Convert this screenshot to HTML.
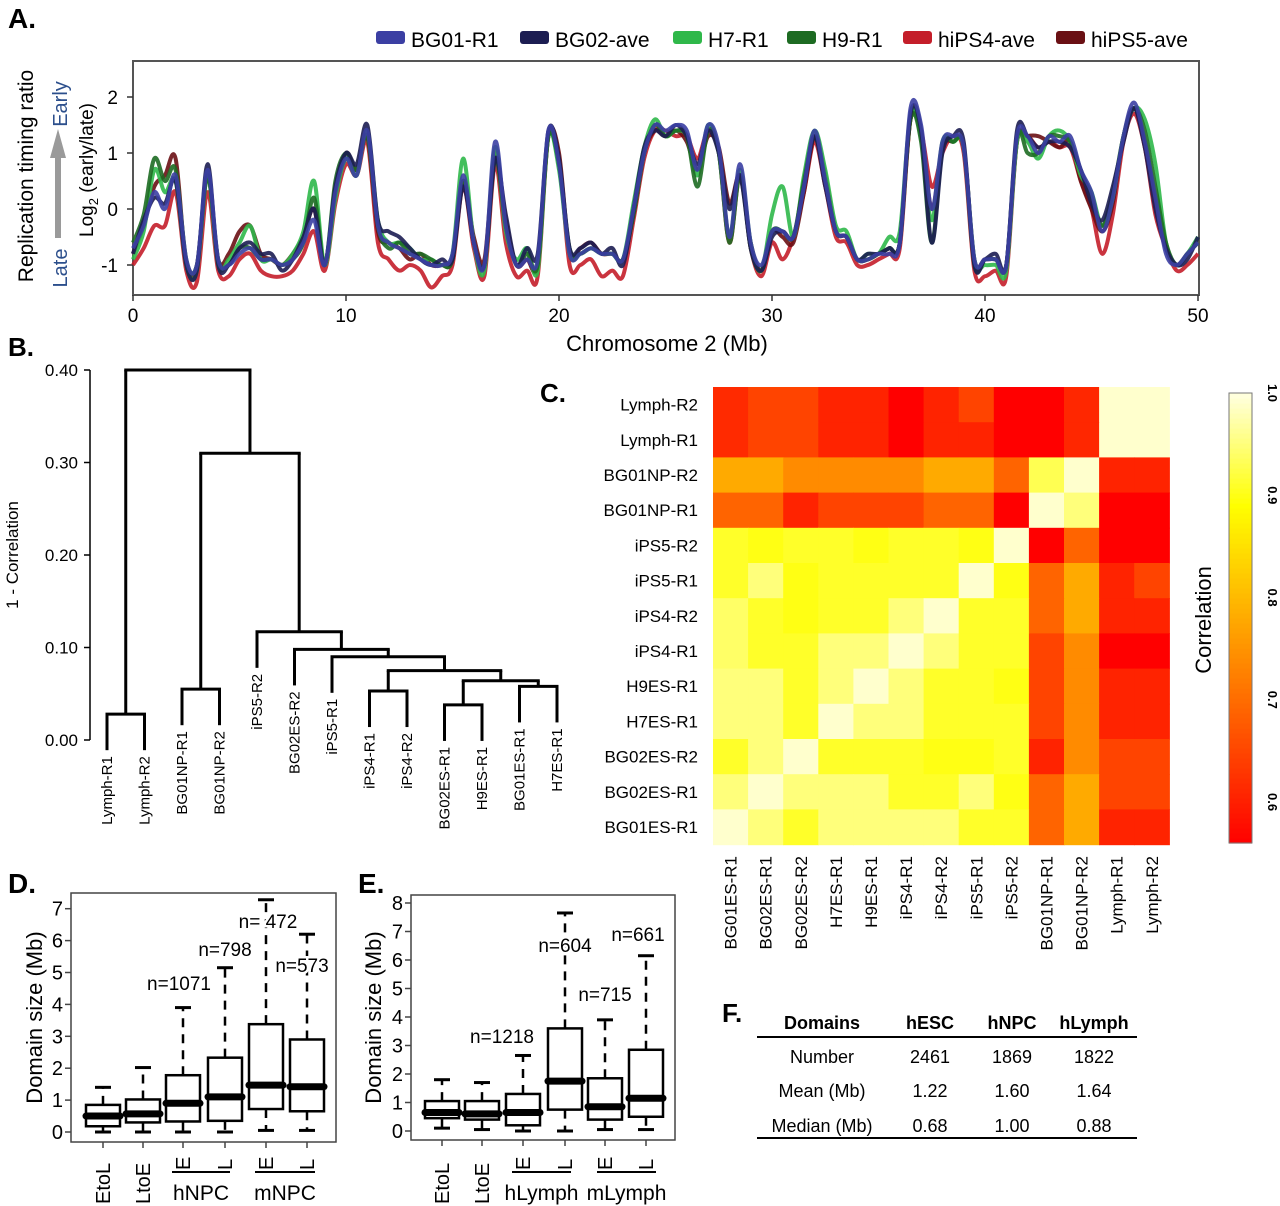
<!DOCTYPE html>
<html><head><meta charset="utf-8"><style>
html,body{margin:0;padding:0;background:#fff;}
svg{display:block;font-family:"Liberation Sans",sans-serif;}
</style></head><body>
<svg id="fig" width="1280" height="1206" viewBox="0 0 1280 1206" xmlns="http://www.w3.org/2000/svg">
<g id="gA"></g>
<g id="gB"></g>
<g id="gC"></g>
<g id="gD"></g>
<g id="gE"></g>
<g id="gF">
  <text x="722" y="1022" font-size="26" font-weight="bold">F.</text>
  <line x1="757" y1="1037" x2="1137" y2="1037" stroke="#000" stroke-width="2"/>
  <line x1="757" y1="1138" x2="1137" y2="1138" stroke="#000" stroke-width="2"/>
  <g font-size="18" font-weight="bold" text-anchor="middle">
    <text x="822" y="1029">Domains</text>
    <text x="930" y="1029">hESC</text>
    <text x="1012" y="1029">hNPC</text>
    <text x="1094" y="1029">hLymph</text>
  </g>
  <g font-size="18" text-anchor="middle">
    <text x="822" y="1063">Number</text>
    <text x="930" y="1063">2461</text>
    <text x="1012" y="1063">1869</text>
    <text x="1094" y="1063">1822</text>
    <text x="822" y="1097">Mean (Mb)</text>
    <text x="930" y="1097">1.22</text>
    <text x="1012" y="1097">1.60</text>
    <text x="1094" y="1097">1.64</text>
    <text x="822" y="1132">Median (Mb)</text>
    <text x="930" y="1132">0.68</text>
    <text x="1012" y="1132">1.00</text>
    <text x="1094" y="1132">0.88</text>
  </g>
</g>
</svg>
<script>
// ---------- Panel A data ----------
const seriesNames = ["BG01-R1","BG02-ave","H7-R1","H9-R1","hiPS4-ave","hiPS5-ave"];
const seriesColors = ["#3b3fa3","#1c1d52","#2fb84a","#1d6b22","#c41e2a","#6a1014"];
const positionsMb = [0,0.5,1,1.5,2,2.5,3,3.5,4,4.5,5,5.5,6,6.5,7,7.5,8,8.5,9,9.5,10,10.5,11,11.5,12,12.5,13,13.5,14,14.5,15,15.5,16,16.5,17,17.5,18,18.5,19,19.5,20,20.5,21,21.5,22,22.5,23,23.5,24,24.5,25,25.5,26,26.5,27,27.5,28,28.5,29,29.5,30,30.5,31,31.5,32,32.5,33,33.5,34,34.5,35,35.5,36,36.5,37,37.5,38,38.5,39,39.5,40,40.5,41,41.5,42,42.5,43,43.5,44,44.5,45,45.5,46,46.5,47,47.5,48,48.5,49,49.5,50];
const bg01 = [-0.7,-0.3,0.3,0.0,0.6,-0.9,-1.0,0.7,-0.9,-1.0,-0.8,-0.7,-0.9,-0.9,-1.0,-0.9,-0.6,-0.2,-1.0,0.3,0.9,0.6,1.4,-0.3,-0.6,-0.7,-0.8,-0.9,-1.0,-1.0,-0.8,0.6,-0.6,-1.0,1.2,-0.3,-1.0,-0.9,-0.9,1.4,0.8,-0.8,-0.8,-0.7,-0.8,-0.8,-0.9,0.0,1.0,1.5,1.4,1.5,1.4,0.7,1.5,1.1,-0.5,0.8,-0.6,-1.0,-0.4,-0.4,-0.5,0.4,1.4,0.5,-0.4,-0.5,-0.9,-0.9,-0.8,-0.8,-0.6,1.8,1.5,0.0,1.2,1.3,1.1,-0.9,-0.9,-0.9,-1.0,1.3,1.3,1.0,1.3,1.2,1.3,0.7,0.3,-0.4,0.2,1.3,1.9,1.2,0.2,-0.8,-1.0,-0.8,-0.6];
const bg02 = [-0.8,-0.2,0.2,0.1,0.5,-1.0,-1.1,0.8,-1.0,-1.0,-0.7,-0.6,-0.8,-0.8,-1.1,-0.9,-0.5,0.0,-1.0,0.4,1.0,0.8,1.5,-0.2,-0.4,-0.5,-0.7,-0.9,-1.0,-0.9,-0.9,0.4,-0.6,-1.0,0.9,-0.1,-1.0,-0.7,-0.8,1.4,0.9,-0.7,-0.7,-0.6,-0.8,-0.7,-1.0,0.0,1.1,1.4,1.3,1.5,1.3,0.8,1.4,1.0,0.0,0.6,-0.7,-1.1,-0.5,-0.4,-0.5,0.4,1.3,0.4,-0.4,-0.5,-0.9,-0.8,-0.8,-0.7,-0.6,1.7,1.4,-0.6,1.0,1.3,1.2,-1.0,-0.9,-0.8,-1.0,1.4,1.3,1.1,1.2,1.2,1.1,0.7,0.1,-0.2,0.4,1.2,1.8,1.1,0.0,-0.7,-1.0,-0.9,-0.5];
const h7 = [-0.9,-0.4,0.7,0.3,0.5,-1.0,-1.1,0.6,-1.0,-0.9,-0.6,-0.3,-0.9,-0.9,-1.0,-0.8,-0.4,0.5,-1.0,0.2,0.9,0.6,1.4,-0.2,-0.6,-0.6,-0.7,-0.9,-0.9,-1.0,-0.8,0.9,-0.6,-1.1,1.1,-0.4,-0.9,-0.7,-1.1,1.3,0.7,-0.8,-0.8,-0.7,-0.8,-0.8,-0.9,0.1,1.1,1.6,1.3,1.4,1.3,0.6,1.5,1.0,-0.5,0.7,-0.6,-1.1,-0.1,0.4,-0.5,0.6,1.4,0.7,-0.3,-0.4,-0.9,-0.8,-0.8,-0.5,-0.4,1.7,1.3,-0.2,1.2,1.2,1.1,-0.9,-1.0,-1.0,-1.1,1.2,1.2,0.9,1.3,1.4,1.2,0.6,0.3,-0.3,0.2,1.3,1.8,1.6,0.8,-0.6,-1.0,-0.8,-0.5];
const h9 = [-0.6,-0.1,0.9,0.5,0.7,-0.9,-1.0,0.6,-0.9,-1.0,-0.7,-0.7,-0.9,-0.9,-1.0,-0.9,-0.6,0.2,-1.0,0.5,1.0,0.7,1.3,-0.3,-0.7,-0.6,-0.8,-0.8,-0.9,-1.0,-0.9,0.5,-0.6,-1.0,0.9,-0.3,-1.0,-0.8,-1.0,1.3,0.8,-0.7,-0.8,-0.7,-0.8,-0.8,-0.9,-0.1,1.0,1.5,1.3,1.4,1.3,0.4,1.4,1.0,-0.6,0.6,-0.7,-1.1,-0.4,-0.4,-0.5,0.5,1.3,0.5,-0.4,-0.5,-0.9,-0.9,-0.8,-0.7,-0.6,1.6,1.2,-0.6,1.1,1.2,1.1,-1.0,-0.9,-0.9,-1.0,1.3,1.0,1.0,1.3,1.3,1.2,0.7,0.2,-0.3,0.3,1.3,1.8,1.4,0.4,-0.6,-1.0,-0.8,-0.6];
const hips4 = [-1.0,-0.7,-0.3,-0.3,0.3,-1.1,-1.3,0.3,-1.1,-1.2,-0.9,-0.8,-1.1,-1.2,-1.2,-1.1,-0.8,-0.4,-1.1,0.1,0.8,0.6,1.2,-0.6,-0.9,-1.1,-1.0,-1.1,-1.4,-1.2,-1.0,0.4,-0.7,-1.2,0.8,-0.6,-1.2,-1.1,-1.2,1.3,0.9,-1.0,-1.0,-0.9,-1.2,-1.1,-1.2,-0.2,0.9,1.4,1.4,1.3,1.3,0.9,1.4,1.0,-0.6,0.6,-0.7,-1.2,-0.6,-0.9,-0.5,0.3,1.2,0.4,-0.5,-0.6,-1.0,-1.0,-0.9,-0.8,-0.7,1.6,1.4,0.4,1.0,1.3,1.0,-1.1,-1.2,-1.1,-1.2,1.2,1.3,1.1,1.2,1.1,1.1,0.5,0.0,-0.8,-0.1,1.2,1.7,1.1,-0.1,-0.7,-1.1,-1.0,-0.8];
const hips5 = [-0.8,-0.3,0.4,0.6,0.9,-1.0,-1.0,0.6,-0.9,-0.8,-0.4,-0.3,-0.8,-0.9,-1.0,-0.8,-0.5,0.0,-1.0,0.3,1.0,0.7,1.3,-0.4,-0.6,-0.7,-0.9,-0.8,-1.0,-1.0,-0.9,0.5,-0.5,-0.9,1.0,-0.2,-1.0,-0.9,-1.0,1.3,1.0,-0.8,-0.7,-0.6,-0.8,-0.8,-0.9,-0.1,1.0,1.4,1.3,1.4,1.2,0.7,1.3,1.1,0.1,0.6,-0.6,-1.1,-0.4,-0.5,-0.6,0.3,1.3,0.6,-0.4,-0.5,-0.9,-0.9,-0.8,-0.7,-0.6,1.6,1.4,0.0,1.1,1.2,1.1,-0.9,-0.9,-0.9,-1.0,1.2,1.3,1.3,1.2,1.1,1.2,0.5,0.0,-0.4,0.1,1.3,1.8,1.2,0.2,-0.7,-1.0,-0.8,-0.6];
const seriesValues = [bg01,bg02,h7,h9,hips4,hips5];
const aXTicks = [0,10,20,30,40,50];
const aYTicks = [2,1,0,-1];

// ---------- Panel B data ----------
const leafLabels = ["Lymph-R1","Lymph-R2","BG01NP-R1","BG01NP-R2","iPS5-R2","BG02ES-R2","iPS5-R1","iPS4-R1","iPS4-R2","BG02ES-R1","H9ES-R1","BG01ES-R1","H7ES-R1"];
// merge pairs: negative = leaf index (1-based), positive = previous merge (1-based)
const mergeLeft  = [-1,-3,-10,-12,-8,3,5,-7,-6,-5,2,1];
const mergeRight = [-2,-4,-11,-13,-9,4,6,7,8,9,10,11];
const mergeHeights = [0.028,0.055,0.038,0.058,0.053,0.064,0.075,0.090,0.098,0.117,0.31,0.40];
const bYTicks = [0.00,0.10,0.20,0.30,0.40];

// ---------- Panel C data ----------
const rowLabels = ["Lymph-R2","Lymph-R1","BG01NP-R2","BG01NP-R1","iPS5-R2","iPS5-R1","iPS4-R2","iPS4-R1","H9ES-R1","H7ES-R1","BG02ES-R2","BG02ES-R1","BG01ES-R1"];
const colLabels = ["BG01ES-R1","BG02ES-R1","BG02ES-R2","H7ES-R1","H9ES-R1","iPS4-R1","iPS4-R2","iPS5-R1","iPS5-R2","BG01NP-R1","BG01NP-R2","Lymph-R1","Lymph-R2"];
const corrRow1  = [0.615,0.648,0.648,0.605,0.605,0.56,0.605,0.648,0.56,0.56,0.61,0.99,0.99];
const corrRow2  = [0.615,0.648,0.648,0.605,0.605,0.56,0.605,0.605,0.56,0.56,0.61,0.99,0.99];
const corrRow3  = [0.78,0.78,0.74,0.74,0.74,0.74,0.78,0.78,0.69,0.93,0.99,0.605,0.605];
const corrRow4  = [0.69,0.69,0.605,0.648,0.648,0.648,0.69,0.69,0.56,0.99,0.95,0.56,0.56];
const corrRow5  = [0.91,0.90,0.91,0.91,0.90,0.91,0.91,0.90,0.99,0.56,0.69,0.56,0.56];
const corrRow6  = [0.91,0.95,0.90,0.91,0.91,0.91,0.91,0.99,0.90,0.69,0.78,0.605,0.648];
const corrRow7  = [0.94,0.91,0.90,0.91,0.91,0.95,0.99,0.91,0.91,0.69,0.78,0.605,0.605];
const corrRow8  = [0.94,0.91,0.91,0.95,0.95,0.99,0.95,0.91,0.91,0.648,0.74,0.56,0.56];
const corrRow9  = [0.95,0.95,0.91,0.95,0.99,0.95,0.91,0.91,0.90,0.648,0.74,0.605,0.605];
const corrRow10 = [0.95,0.95,0.91,0.99,0.95,0.95,0.91,0.91,0.91,0.648,0.74,0.605,0.605];
const corrRow11 = [0.91,0.95,0.99,0.91,0.91,0.91,0.90,0.90,0.91,0.605,0.74,0.648,0.648];
const corrRow12 = [0.95,0.99,0.95,0.95,0.95,0.91,0.91,0.95,0.90,0.69,0.78,0.648,0.648];
const corrRow13 = [0.99,0.95,0.91,0.95,0.95,0.95,0.95,0.91,0.91,0.69,0.78,0.605,0.605];
const corrMatrix = [corrRow1,corrRow2,corrRow3,corrRow4,corrRow5,corrRow6,corrRow7,corrRow8,corrRow9,corrRow10,corrRow11,corrRow12,corrRow13];
const cbTicks = [1.0,0.9,0.8,0.7,0.6];

// ---------- Panel D data ----------
const dCats = ["EtoL","LtoE","E","L","E","L"];
const dLow  = [0,0,0,0,0.05,0.05];
const dQ1   = [0.18,0.3,0.33,0.35,0.72,0.65];
const dMed  = [0.5,0.57,0.9,1.1,1.47,1.42];
const dQ3   = [0.85,1.02,1.78,2.33,3.38,2.9];
const dHigh = [1.4,2.02,3.9,5.15,7.28,6.2];
const dN    = ["","","n=1071","n=798","n= 472","n=573"];
const dYTicks = [0,1,2,3,4,5,6,7];
// ---------- Panel E data ----------
const eCats = ["EtoL","LtoE","E","L","E","L"];
const eLow  = [0.1,0.05,0,0,0.05,0.05];
const eQ1   = [0.45,0.4,0.2,0.75,0.4,0.5];
const eMed  = [0.65,0.6,0.65,1.75,0.85,1.15];
const eQ3   = [1.05,1.05,1.3,3.6,1.85,2.85];
const eHigh = [1.8,1.7,2.65,7.65,3.9,6.15];
const eN    = ["","","n=1218","n=604","n=715","n=661"];
const eYTicks = [0,1,2,3,4,5,6,7,8];

const NS="http://www.w3.org/2000/svg";
function mk(parent, tag, attrs, text){
  const el=document.createElementNS(NS,tag);
  for(const k in attrs) el.setAttribute(k,attrs[k]);
  if(text!==undefined) el.textContent=text;
  parent.appendChild(el);
  return el;
}

// ===== Panel A =====
(function(){
  const g=document.getElementById('gA');
  const X0=133,X1=1198,Yv0=209,Ypu=56;
  const xA=v=>X0+(X1-X0)*v/50;
  const yA=v=>Yv0-v*Ypu;
  let t=mk(g,'text',{x:8,y:28,'font-size':28,'font-weight':'bold'},'A.');
  
  
  let box=mk(g,'rect',{x:133,y:61,width:1066,height:234,fill:'none',stroke:'#555','stroke-width':2});
  
  
  const lx=[376,520,673,787,903,1056];
  for(let i=0;i<seriesNames.length;i++){
    const sw=mk(g,'rect',{x:lx[i],y:31,width:29,height:13,rx:3,fill:seriesColors[i]});
    
    
    const lt=mk(g,'text',{x:lx[i]+35,y:47,'font-size':21},seriesNames[i]);
    
    
  }
  for(const v of aYTicks){
    const y=yA(v);
    const tk=mk(g,'line',{x1:127,x2:133,y1:y,y2:y,stroke:'#333','stroke-width':1.5});
    
    
    const tl=mk(g,'text',{x:118,y:y+7,'font-size':19,'text-anchor':'end'},String(v));
    
    
  }
  for(const v of aXTicks){
    const x=xA(v);
    const tk=mk(g,'line',{x1:x,x2:x,y1:295,y2:301,stroke:'#333','stroke-width':1.5});
    
    
    const tl=mk(g,'text',{x:x,y:322,'font-size':19,'text-anchor':'middle'},String(v));
    
    
  }
  let xt=mk(g,'text',{x:667,y:351,'font-size':22,'text-anchor':'middle'},'Chromosome 2 (Mb)');
  
  
  let yt=mk(g,'text',{transform:'translate(33,176) rotate(-90)','font-size':21,'text-anchor':'middle'},'Replication timing ratio');
  
  
  let yt2=mk(g,'text',{transform:'translate(93,170) rotate(-90)','font-size':19,'text-anchor':'middle'});
  
  
  yt2.innerHTML='Log<tspan font-size="13" dy="5">2</tspan><tspan dy="-5"> (early/late)</tspan>';
  let e=mk(g,'text',{transform:'translate(67,104) rotate(-90)','font-size':20,'text-anchor':'middle',fill:'#2c4f8c'},'Early');
  
  
  let l=mk(g,'text',{transform:'translate(67,268) rotate(-90)','font-size':20,'text-anchor':'middle',fill:'#2c4f8c'},'Late');
  
  
  let ar=mk(g,'path',{d:'M55 238 L55 158 L50 158 L58 129 L66 158 L61 158 L61 238 Z',fill:'#9a9a9a'});
  
  
  const order=[4,5,2,3,1,0];
  for(const si of order){
    const vals=seriesValues[si];
    const pts=positionsMb.map((p,i)=>[xA(p),yA(vals[i])]);
    let d='M'+pts[0][0].toFixed(1)+' '+pts[0][1].toFixed(1);
    for(let i=0;i<pts.length-1;i++){
      const p0=pts[Math.max(0,i-1)],p1=pts[i],p2=pts[i+1],p3=pts[Math.min(pts.length-1,i+2)];
      const c1=[p1[0]+(p2[0]-p0[0])/6,p1[1]+(p2[1]-p0[1])/6];
      const c2=[p2[0]-(p3[0]-p1[0])/6,p2[1]-(p3[1]-p1[1])/6];
      d+=' C'+c1[0].toFixed(1)+' '+c1[1].toFixed(1)+' '+c2[0].toFixed(1)+' '+c2[1].toFixed(1)+' '+p2[0].toFixed(1)+' '+p2[1].toFixed(1);
    }
    const path=mk(g,'path',{d:d,fill:'none',stroke:seriesColors[si],'stroke-width':4,'stroke-opacity':0.9,'stroke-linejoin':'round'});
    
    
  }
})();

// ===== Panel B =====
(function(){
  const g=document.getElementById('gB');
  const yB=v=>740-v*925;
  const leafX=i=>107+i*37.5;
  const hang=0.039;
  let t=mk(g,'text',{x:8,y:356,'font-size':26,'font-weight':'bold'},'B.');
  
  
  let ax=mk(g,'line',{x1:90,x2:90,y1:yB(0.40),y2:yB(0),stroke:'#000','stroke-width':1.5});
  
  
  for(const v of bYTicks){
    const tk=mk(g,'line',{x1:84,x2:90,y1:yB(v),y2:yB(v),stroke:'#000','stroke-width':1.5});
    
    
    const tl=mk(g,'text',{x:78,y:yB(v)+6,'font-size':17,'text-anchor':'end'},v.toFixed(2));
    
    
  }
  let yt=mk(g,'text',{transform:'translate(18,555) rotate(-90)','font-size':17,'text-anchor':'middle'},'1 - Correlation');
  
  
  const nodeX=[],nodeH=[];
  function info(ref){
    if(ref<0){return {x:leafX(-ref-1),leaf:true,i:-ref-1};}
    return {x:nodeX[ref-1],h:nodeH[ref-1],leaf:false};
  }
  for(let m=0;m<mergeHeights.length;m++){
    const h=mergeHeights[m];
    const a=info(mergeLeft[m]),b=info(mergeRight[m]);
    for(const c of [a,b]){
      const bot=c.leaf?yB(h-hang):yB(c.h);
      const vl=mk(g,'line',{x1:c.x,x2:c.x,y1:yB(h),y2:bot,stroke:'#000','stroke-width':3});
      
      
      if(c.leaf){
        const lt=mk(g,'text',{transform:'translate('+(c.x+5)+','+(bot+6)+') rotate(-90)','font-size':15,'text-anchor':'end'},leafLabels[c.i]);
        
        
      }
    }
    const hl=mk(g,'line',{x1:Math.min(a.x,b.x)-1.5,x2:Math.max(a.x,b.x)+1.5,y1:yB(h),y2:yB(h),stroke:'#000','stroke-width':3});
    
    
    nodeX.push((a.x+b.x)/2);nodeH.push(h);
  }
})();

// ===== Panel C =====
(function(){
  const g=document.getElementById('gC');
  const CX=713,CY=387,CW=35.1,CH=35.2;
  function heat(v){
    let t=(v-0.56)/0.44; t=Math.max(0,Math.min(1,t));
    if(t<0.75) return 'rgb(255,'+Math.round(255*t/0.75)+',0)';
    return 'rgb(255,255,'+Math.round(225*(t-0.75)/0.25)+')';
  }
  let t=mk(g,'text',{x:540,y:402,'font-size':26,'font-weight':'bold'},'C.');
  
  
  for(let r=0;r<rowLabels.length;r++){
    for(let c=0;c<colLabels.length;c++){
      const cell=mk(g,'rect',{x:CX+c*CW,y:CY+r*CH,width:CW+0.6,height:CH+0.6,fill:heat(corrMatrix[r][c])});
      
      
    }
    const rl=mk(g,'text',{x:698,y:CY+r*CH+CH/2+6,'font-size':17,'text-anchor':'end'},rowLabels[r]);
    
    
  }
  for(let c=0;c<colLabels.length;c++){
    const x=CX+c*CW+CW/2+6;
    const cl=mk(g,'text',{transform:'translate('+x+',856) rotate(-90)','font-size':17,'text-anchor':'end'},colLabels[c]);
    
    
  }
  const cbTop=393,cbBot=843,vMin=0.56,vMax=1.0;
  const yC=v=>cbBot-(v-vMin)/(vMax-vMin)*(cbBot-cbTop);
  for(let i=0;i<90;i++){
    const v=vMin+(vMax-vMin)*(i+0.5)/90;
    const s=mk(g,'rect',{x:1229,y:cbBot-(i+1)*(cbBot-cbTop)/90,width:23,height:(cbBot-cbTop)/90+0.6,fill:heat(v)});
    
    
  }
  let cbf=mk(g,'rect',{x:1229,y:cbTop,width:23,height:cbBot-cbTop,fill:'none',stroke:'#777','stroke-width':1});
  
  
  for(const v of cbTicks){
    const tl=mk(g,'text',{transform:'translate(1268,'+yC(v)+') rotate(90)','font-size':13,'font-weight':'bold','text-anchor':'middle'},v.toFixed(1));
    
    
  }
  let ct=mk(g,'text',{transform:'translate(1211,620) rotate(-90)','font-size':22,'text-anchor':'middle'},'Correlation');
  
  
})();

// ===== Box plots =====
function boxPanel(gid,cfg,cats,low,q1,med,q3,high,nl,ticks){
  const g=document.getElementById(gid);
  const yS=v=>cfg.y0-v*cfg.ppu;
  let t=mk(g,'text',{x:cfg.lblX,y:cfg.lblY,'font-size':28,'font-weight':'bold'},cfg.lbl);
  
  
  let fr=mk(g,'rect',{x:cfg.bx0,y:cfg.by0,width:cfg.bx1-cfg.bx0,height:cfg.by1-cfg.by0,fill:'none',stroke:'#444','stroke-width':1.5});
  
  
  for(const v of ticks){
    const tk=mk(g,'line',{x1:cfg.bx0-6,x2:cfg.bx0,y1:yS(v),y2:yS(v),stroke:'#444','stroke-width':1.5});
    
    
    const tl=mk(g,'text',{x:cfg.bx0-8,y:yS(v)+7,'font-size':20,'text-anchor':'end'},String(v));
    
    
  }
  let yt=mk(g,'text',{transform:'translate('+cfg.titleX+','+((cfg.by0+cfg.by1)/2)+') rotate(-90)','font-size':22,'text-anchor':'middle'},'Domain size (Mb)');
  
  
  const hw=17;
  for(let i=0;i<cats.length;i++){
    const x=cfg.cx[i];
    const w1=mk(g,'line',{x1:x,x2:x,y1:yS(q3[i]),y2:yS(high[i]),stroke:'#000','stroke-width':2.5,'stroke-dasharray':'9,7'});
    
    
    const w2=mk(g,'line',{x1:x,x2:x,y1:yS(q1[i]),y2:yS(low[i]),stroke:'#000','stroke-width':2.5,'stroke-dasharray':'9,7'});
    
    
    for(const v of [high[i],low[i]]){
      const cap=mk(g,'line',{x1:x-8,x2:x+8,y1:yS(v),y2:yS(v),stroke:'#000','stroke-width':3});
      
      
    }
    const b=mk(g,'rect',{x:x-hw,y:yS(q3[i]),width:2*hw,height:yS(q1[i])-yS(q3[i]),fill:'#fff',stroke:'#000','stroke-width':2.5});
    
    
    const m=mk(g,'line',{x1:x-hw,x2:x+hw,y1:yS(med[i]),y2:yS(med[i]),stroke:'#000','stroke-width':7,'stroke-linecap':'round'});
    
    
    if(nl[i]){
      const nt=mk(g,'text',{x:cfg.nx[i],y:cfg.ny[i],'font-size':19,'text-anchor':'middle',stroke:'#fff','stroke-width':5,'paint-order':'stroke'},nl[i]);
      
      
    }
    const tk=mk(g,'line',{x1:x,x2:x,y1:cfg.by1,y2:cfg.by1+6,stroke:'#444','stroke-width':1.5});
    
    
    const ly=cats[i].length>1?1204:1170;
    const cl=mk(g,'text',{transform:'translate('+(x+7)+','+ly+') rotate(-90)','font-size':20,'text-anchor':'start'},cats[i]);
    
    
  }
  for(let k=0;k<2;k++){
    const gl=mk(g,'line',{x1:cfg.gx0[k],x2:cfg.gx1[k],y1:1172,y2:1172,stroke:'#000','stroke-width':2});
    
    
    const gt=mk(g,'text',{x:(cfg.gx0[k]+cfg.gx1[k])/2,y:1200,'font-size':21,'text-anchor':'middle'},cfg.groups[k]);
    
    
  }
}
boxPanel('gD',{prefix:'panel-d',lbl:'D.',lblX:8,lblY:893,bx0:71,bx1:336,by0:893,by1:1142,y0:1132,ppu:31.9,
  cx:[103,143,183,225,266,307],nx:[0,0,179,225,268,302],ny:[0,0,990,956,928,972],
  gx0:[172,255],gx1:[230,315],groups:['hNPC','mNPC'],titleX:42},dCats,dLow,dQ1,dMed,dQ3,dHigh,dN,dYTicks);
boxPanel('gE',{prefix:'panel-e',lbl:'E.',lblX:358,lblY:893,bx0:411,bx1:675,by0:895,by1:1140,y0:1131,ppu:28.5,
  cx:[442,482,523,565,605,646],nx:[0,0,502,565,605,638],ny:[0,0,1043,952,1001,941],
  gx0:[512,597],gx1:[571,656],groups:['hLymph','mLymph'],titleX:381},eCats,eLow,eQ1,eMed,eQ3,eHigh,eN,eYTicks);
</script>
</body></html>
